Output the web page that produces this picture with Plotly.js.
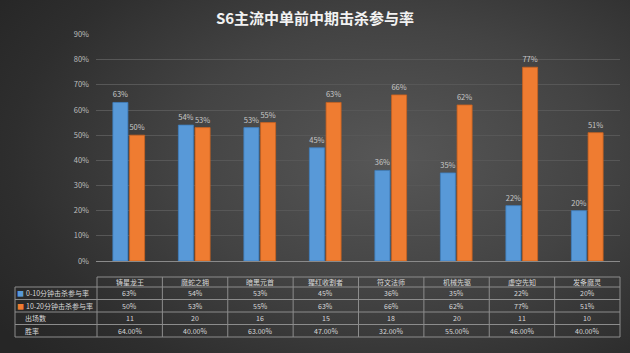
<!DOCTYPE html>
<html>
<head>
<meta charset="utf-8">
<script src="https://cdn.plot.ly/plotly-3.0.1.min.js"></script>
<style>
html,body{margin:0;padding:0;}
body{width:630px;height:353px;overflow:hidden;
background:radial-gradient(ellipse 75% 85% at 62% 45%, #575757 0%, #434343 45%, #2e2e2e 80%, #262626 100%);}
#chart{width:630px;height:353px;}
</style>
</head>
<body>
<div id="chart"></div>
<script>
const categories = ['铸星龙王','魔蛇之拥','暗黑元首','猩红收割者','符文法师','机械先驱','虚空先知','发条魔灵'];
const seriesNames = ['0-10分钟击杀参与率','10-20分钟击杀参与率'];
const early = [63,54,53,45,36,35,22,20];     // 0-10分钟击杀参与率 (%)
const mid = [50,53,55,63,66,62,77,51];       // 10-20分钟击杀参与率 (%)
const rowLabels = ['出场数','胜率'];
const games = [11,20,16,15,18,20,11,10];     // 出场数
const winRate = [64,40,63,47,32,55,46,40];   // 胜率 (%)
const yTicks = [0,10,20,30,40,50,60,70,80,90];

const BLUE = '#5899d8', ORANGE = '#ef7c31';
const font = "'Noto Sans CJK SC', 'Noto Sans', sans-serif";
const W = 630, H = 353;
const px = x => x / W, py = y => 1 - y / H;
const pct = v => v + '%';

// table geometry (pixels)
const TL = 15, TX0 = 97, TX1 = 620;
const colW = (TX1 - TX0) / categories.length;
const rowY = [277, 287, 299.5, 312, 324.5, 337];
const LINE = '#8c8c8c';
const tfont = {size: 7, color: '#d8d8d8', family: font};

const tableRows = [
  early.map(pct),
  mid.map(pct),
  games.map(String),
  winRate.map(v => v.toFixed(2) + '%')
];
const rowNames = seriesNames.concat(rowLabels);
const keyColors = [BLUE, ORANGE, null, null];

const shapes = [];
const line = (x0, y0, x1, y1) => shapes.push({type: 'line', xref: 'paper', yref: 'paper',
  x0: px(x0), y0: py(y0), x1: px(x1), y1: py(y1), line: {color: LINE, width: 1}});
line(TX0, rowY[0], TX1, rowY[0]);
for (let r = 1; r < rowY.length; r++) line(TL, rowY[r], TX1, rowY[r]);
line(TL, rowY[1], TL, rowY[rowY.length - 1]);
for (let c = 0; c <= categories.length; c++) line(TX0 + c * colW, rowY[0], TX0 + c * colW, rowY[rowY.length - 1]);

const annotations = [];
const txt = (text, x, y, xanchor, f) => annotations.push({text, xref: 'paper', yref: 'paper',
  x: px(x), y: py(y), xanchor, yanchor: 'middle', showarrow: false, font: f || tfont});
categories.forEach((c, i) => txt(c, TX0 + (i + 0.5) * colW, (rowY[0] + rowY[1]) / 2, 'center'));
rowNames.forEach((name, r) => {
  const yc = (rowY[r + 1] + rowY[r + 2]) / 2;
  if (keyColors[r]) {
    txt('■', 20, yc, 'center', {size: 7, color: keyColors[r], family: font});
    txt(name, 23.5, yc, 'left');
  } else {
    txt(name, 22.5, yc, 'left');
  }
  tableRows[r].forEach((v, i) => txt(v, TX0 + (i + 0.5) * colW, yc, 'center'));
});

const barCommon = {
  type: 'bar', x: categories, textposition: 'outside',
  cliponaxis: false, constraintext: 'none',
  textfont: {size: 7.5, color: '#c8c8c8', family: font},
  hoverinfo: 'skip'
};

const traces = [
  Object.assign({}, barCommon, {name: seriesNames[0], y: early, text: early.map(pct),
    marker: {color: BLUE, line: {color: '#3f7fbf', width: 0.8}}}),
  Object.assign({}, barCommon, {name: seriesNames[1], y: mid, text: mid.map(pct),
    marker: {color: ORANGE, line: {color: '#c9621f', width: 0.8}}})
];

const layout = {
  width: W, height: H,
  margin: {l: 0, r: 0, t: 0, b: 0},
  paper_bgcolor: 'rgba(0,0,0,0)',
  plot_bgcolor: 'rgba(0,0,0,0)',
  showlegend: false,
  font: {family: font, color: '#c0c0c0'},
  title: {
    text: '<b>S6主流中单前中期击杀参与率</b>',
    font: {size: 15, color: '#f2f2f2', family: font},
    x: 0.5, xanchor: 'center', y: py(19), yanchor: 'middle'
  },
  barmode: 'group', bargap: 0.49, bargroupgap: 0.1,
  xaxis: {
    domain: [px(96), px(620)],
    showticklabels: false, ticks: '', showgrid: false, zeroline: false,
    showline: false, fixedrange: true
  },
  yaxis: {
    domain: [py(261), py(34.5)],
    range: [0, 90], tickvals: yTicks, ticktext: yTicks.map(pct),
    tickfont: {size: 7.5, color: '#bdbdbd', family: font},
    showgrid: true, gridcolor: '#575757', gridwidth: 1,
    zeroline: true, zerolinecolor: '#8a8a8a', zerolinewidth: 1,
    showline: false, ticks: '', ticklabelstandoff: 6, fixedrange: true
  },
  shapes, annotations
};

Plotly.newPlot('chart', traces, layout, {staticPlot: true, displayModeBar: false});
</script>
</body>
</html>
